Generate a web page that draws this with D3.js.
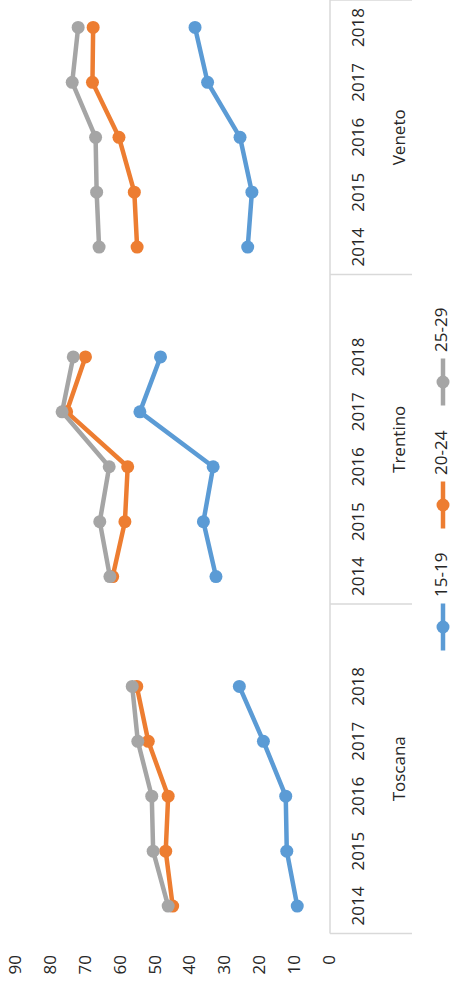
<!DOCTYPE html>
<html>
<head>
<meta charset="utf-8">
<script src="https://cdn.jsdelivr.net/npm/d3@7"></script>
<style>
  html, body { margin: 0; padding: 0; background: #fff; }
  svg { display: block; }
  text { font-family: "Open Sans", "Noto Sans", sans-serif; fill: #262626; }
</style>
</head>
<body>
<svg id="chart" width="452" height="984"></svg>
<script>
// ---- data ----
const regions = ["Toscana", "Trentino", "Veneto"];
const years = ["2014", "2015", "2016", "2017", "2018"];
const seriesNames = ["15-19", "20-24", "25-29"];
const seriesColors = ["#5B9BD5", "#ED7D31", "#A5A5A5"];
const valueTicks = [0, 10, 20, 30, 40, 50, 60, 70, 80, 90];

const s15_19 = {
  Toscana:  [9.1, 12.1, 12.4, 18.8, 25.7],
  Trentino: [32.4, 36.0, 33.2, 54.2, 48.3],
  Veneto:   [23.3, 22.1, 25.5, 34.8, 38.4]
};
const s20_24 = {
  Toscana:  [44.8, 46.8, 46.1, 51.8, 55.1],
  Trentino: [62.0, 58.5, 57.7, 75.2, 69.8],
  Veneto:   [55.0, 55.8, 60.2, 67.8, 67.6]
};
const s25_29 = {
  Toscana:  [46.1, 50.4, 50.8, 54.8, 56.4],
  Trentino: [62.8, 65.7, 63.0, 76.5, 73.3],
  Veneto:   [65.9, 66.6, 66.9, 73.6, 71.9]
};
const seriesData = [s15_19, s20_24, s25_29];

// ---- category slots (with a blank slot after each region except the last) ----
const slots = [];
regions.forEach((r, ri) => {
  years.forEach(y => slots.push({ key: r + "|" + y, region: r, year: y }));
  if (ri < regions.length - 1) slots.push({ key: r + "|blank", region: r, year: null });
});

// ---- layout (drawn in unrotated frame W x H, then rotated -90deg) ----
const W = 984, H = 452;
const svg = d3.select("#chart");
const g = svg.append("g").attr("transform", `translate(0,${W}) rotate(-90)`);

const x = d3.scaleBand().domain(slots.map(d => d.key)).range([50.5, W]).padding(0);
const y = d3.scaleLinear().domain([0, 90]).range([329, 15]);
const fs = 17;
const textColor = "#262626";

// value axis
const yAxis = g.append("g").attr("transform", "translate(50.5,0)")
  .call(d3.axisLeft(y).tickValues(valueTicks).tickSize(0).tickPadding(21.5));
yAxis.select(".domain").remove();
yAxis.selectAll("text").attr("font-size", fs).attr("font-family", null).attr("fill", textColor);

// category axis
const axisY = 330;
const xAxis = g.append("g").attr("transform", `translate(0,${axisY})`)
  .call(d3.axisBottom(x).tickSize(0).tickPadding(22)
    .tickFormat(k => { const s = slots.find(d => d.key === k); return s.year || ""; }));
xAxis.select(".domain").attr("stroke", "#D9D9D9").attr("stroke-width", 1.5)
  .attr("d", `M50.5,0H${W}`);
xAxis.selectAll("text").attr("font-size", fs).attr("font-family", null).attr("fill", textColor);

// group separators and region labels
const groupBounds = regions.map(r => {
  const ks = slots.filter(d => d.region === r);
  const start = x(ks[0].key);
  const end = x(ks[ks.length - 1].key) + x.bandwidth();
  return { region: r, start, end };
});
const sepXs = [groupBounds[0].start, ...groupBounds.map(b => b.end)];
g.selectAll("line.sep").data(sepXs).enter().append("line")
  .attr("x1", d => d).attr("x2", d => d)
  .attr("y1", axisY).attr("y2", 412)
  .attr("stroke", "#D9D9D9").attr("stroke-width", 1.5);
g.selectAll("text.region").data(groupBounds).enter().append("text")
  .attr("x", d => (d.start + d.end) / 2)
  .attr("y", 405)
  .attr("text-anchor", "middle")
  .attr("font-size", fs)
  .text(d => d.region);

// series
const line = d3.line().x(d => x(d.key) + x.bandwidth() / 2).y(d => y(d.v));
seriesData.forEach((sd, si) => {
  const sg = g.append("g");
  regions.forEach(r => {
    const pts = years.map((yr, i) => ({ key: r + "|" + yr, v: sd[r][i] }));
    sg.append("path").attr("d", line(pts))
      .attr("fill", "none").attr("stroke", seriesColors[si])
      .attr("stroke-width", 4.5).attr("stroke-linejoin", "round").attr("stroke-linecap", "round");
    sg.selectAll(null).data(pts).enter().append("circle")
      .attr("cx", d => x(d.key) + x.bandwidth() / 2)
      .attr("cy", d => y(d.v))
      .attr("r", 6.5)
      .attr("fill", seriesColors[si]);
  });
});

// legend
const legendX = [357, 479, 602];
const legendY = 443;
seriesNames.forEach((name, i) => {
  const lg = g.append("g");
  lg.append("line")
    .attr("x1", legendX[i] - 23.5).attr("x2", legendX[i] + 23.5)
    .attr("y1", legendY).attr("y2", legendY)
    .attr("stroke", seriesColors[i]).attr("stroke-width", 4.5);
  lg.append("circle").attr("cx", legendX[i]).attr("cy", legendY).attr("r", 6.5)
    .attr("fill", seriesColors[i]);
  lg.append("text").attr("x", legendX[i] + 30).attr("y", 447)
    .attr("font-size", fs).text(name);
});
</script>
</body>
</html>
